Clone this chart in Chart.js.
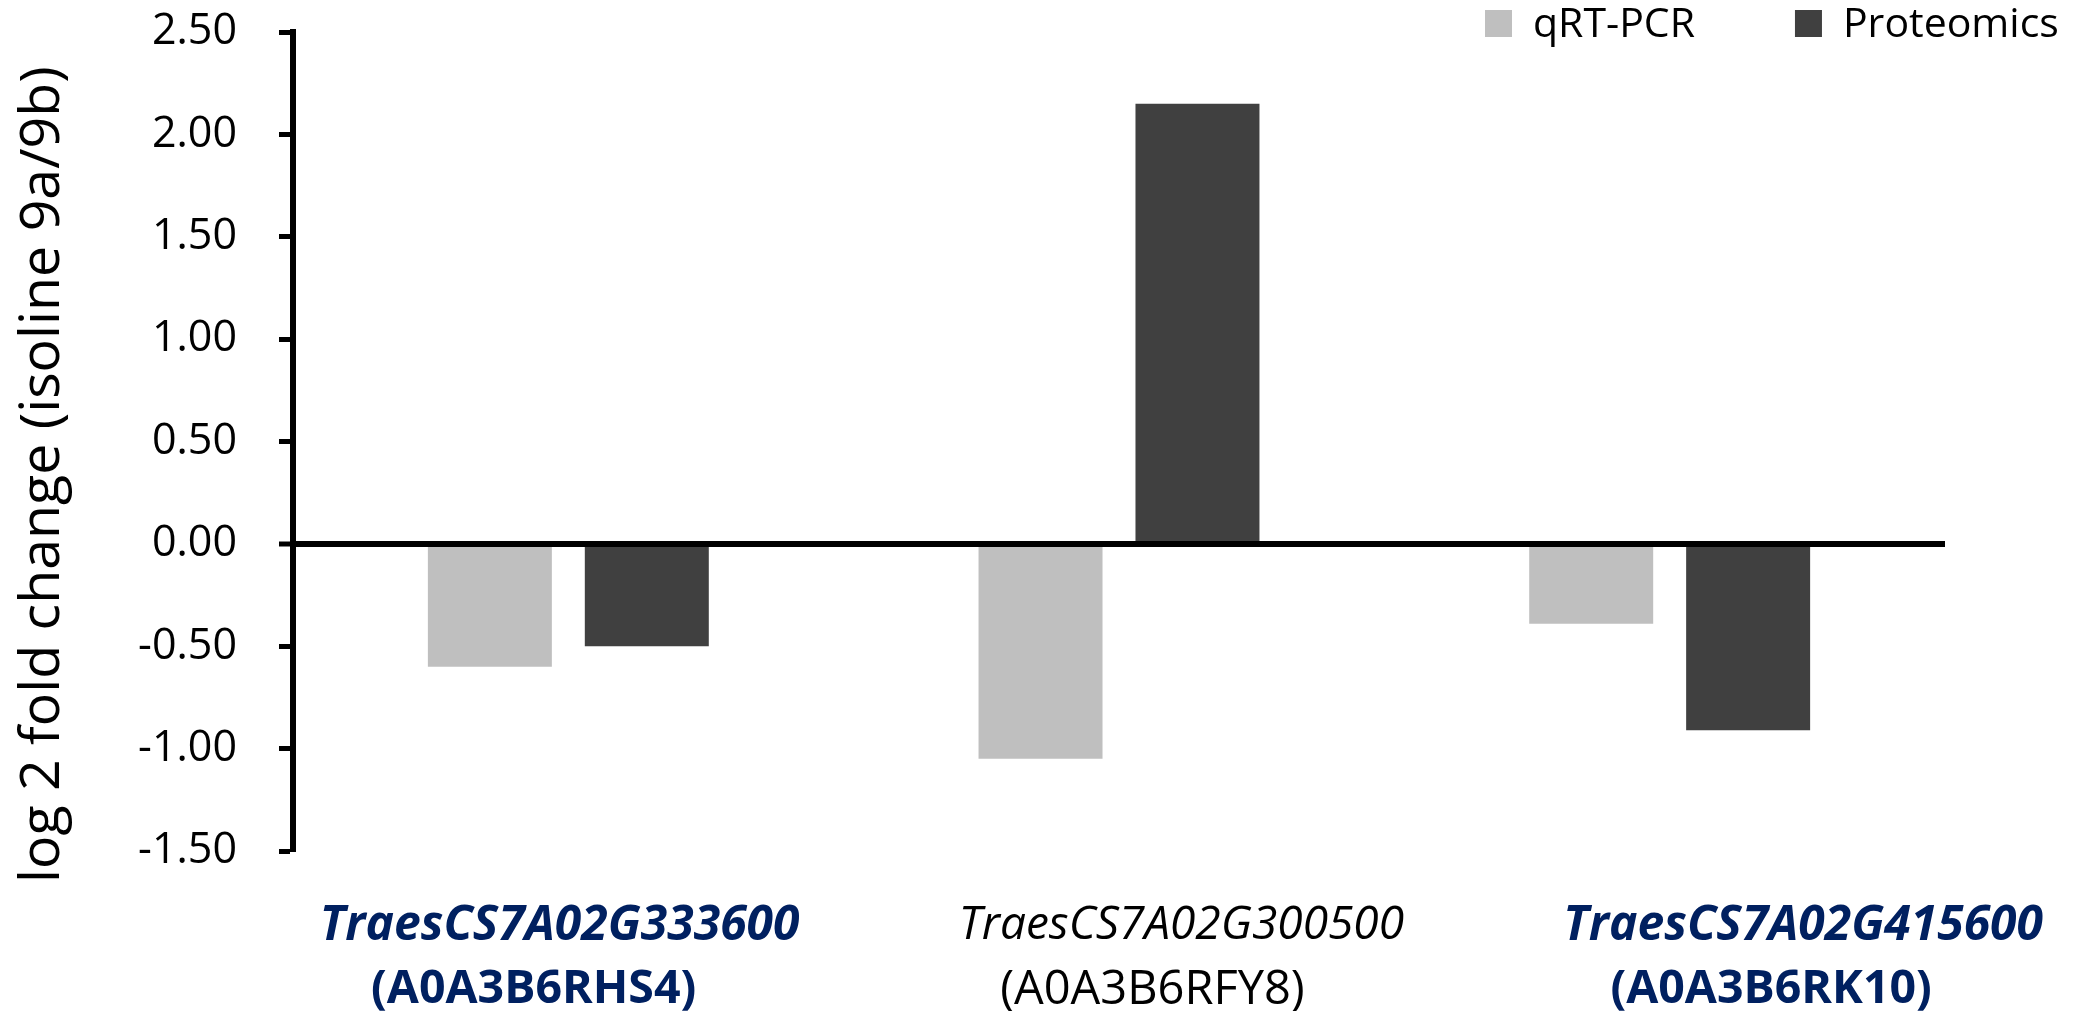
<!DOCTYPE html>
<html>
<head>
<meta charset="utf-8">
<script src="https://cdn.jsdelivr.net/npm/chart.js@4/dist/chart.umd.min.js"></script>
<style>
  html, body { margin: 0; padding: 0; background: #ffffff; }
  canvas { display: block; }
</style>
</head>
<body>
<canvas id="chart" width="2079" height="1011"></canvas>
<script>
// ---- data ----
const geneIds = ['TraesCS7A02G333600', 'TraesCS7A02G300500', 'TraesCS7A02G415600'];
const proteinIds = ['(A0A3B6RHS4)', '(A0A3B6RFY8)', '(A0A3B6RK10)'];
const highlighted = [true, false, true];
const seriesNames = ['qRT-PCR', 'Proteomics'];
const qrtpcrValues = [-0.60, -1.05, -0.39];
const proteomicsValues = [-0.50, 2.15, -0.91];
const yTickValues = [-1.5, -1.0, -0.5, 0, 0.5, 1.0, 1.5, 2.0, 2.5];
const yTitle = 'log 2 fold change (isoline 9a/9b)';

// ---- style ----
const FONT = "'Open Sans', 'Noto Sans', 'DejaVu Sans', sans-serif";
const NAVY = '#002060';
const seriesColors = ['#BFBFBF', '#404040'];
Chart.defaults.font.family = FONT;

const categories = geneIds.map((g, i) => g + ' ' + proteinIds[i]);

const cornerLegend = {
  id: 'cornerLegend',
  afterDraw(chart) {
    const c = chart.ctx;
    c.save();
    c.font = '41px ' + FONT;
    c.textBaseline = 'alphabetic';
    c.textAlign = 'left';
    let x = 1485;
    const box = 27, boxGap = 21, itemGap = 100, boxTop = 10, baseline = 37;
    chart.data.datasets.forEach(ds => {
      c.fillStyle = ds.backgroundColor;
      c.fillRect(x, boxTop, box, box);
      x += box + boxGap;
      c.fillStyle = '#000';
      c.fillText(ds.label, x, baseline);
      x += c.measureText(ds.label).width + itemGap;
    });
    c.restore();
  }
};

function labelAxis(texts, weight, height, pad, min, max, italic, boldSize, normalSize) {
  return {
    type: 'linear',
    position: 'bottom',
    weight: weight,
    min: min,
    max: max,
    offset: false,
    bounds: 'data',
    grid: { display: false, offset: false },
    border: { display: false },
    afterBuildTicks: s => { s.ticks = texts.map((_, i) => ({ value: i })); },
    afterFit: s => {
      s.height = height;
      s.paddingLeft = 0; s.paddingRight = 0; s.paddingTop = 0; s.paddingBottom = 0;
    },
    ticks: {
      autoSkip: false,
      maxRotation: 0,
      minRotation: 0,
      padding: pad,
      callback: v => texts[v],
      color: c => highlighted[c.index] ? NAVY : '#000000',
      font: c => ({
        family: FONT,
        size: highlighted[c.index] ? boldSize : normalSize,
        style: italic ? 'italic' : 'normal',
        weight: highlighted[c.index] ? 'bold' : 'normal'
      })
    }
  };
}

new Chart(document.getElementById('chart'), {
  type: 'bar',
  data: {
    labels: categories,
    datasets: [
      { label: seriesNames[0], data: qrtpcrValues, backgroundColor: seriesColors[0],
        categoryPercentage: 0.57, barPercentage: 0.79, xAxisID: 'x', yAxisID: 'y' },
      { label: seriesNames[1], data: proteomicsValues, backgroundColor: seriesColors[1],
        categoryPercentage: 0.57, barPercentage: 0.79, xAxisID: 'x', yAxisID: 'y' }
    ]
  },
  options: {
    responsive: false,
    animation: false,
    devicePixelRatio: 1,
    layout: { padding: { top: 32, right: 134, bottom: 0, left: 0 } },
    plugins: { legend: { display: false }, tooltip: { enabled: false } },
    scales: {
      x: { type: 'category', display: false, offset: true },
      xl1: labelAxis(geneIds, 1, 95, 39, -0.4289, 2.2282, true, 48, 46),
      xl2: labelAxis(proteinIds, 2, 65, 8, -0.389, 2.281, false, 46.5, 47),
      y: {
        type: 'linear',
        position: 'left',
        min: -1.5,
        max: 2.5,
        z: 1,
        afterBuildTicks: s => { s.ticks = yTickValues.map(v => ({ value: v })); },
        afterFit: s => {
          s.width = 293;
          s.paddingTop = 0; s.paddingBottom = 0;
        },
        ticks: {
          callback: v => Number(v).toFixed(2),
          color: '#000000',
          font: { size: 43 },
          padding: 42
        },
        grid: {
          color: c => (c.tick && c.tick.value === 0) ? '#000000' : 'rgba(0,0,0,0)',
          lineWidth: c => (c.tick && c.tick.value === 0) ? 6 : 1,
          tickColor: '#000000',
          tickWidth: 5,
          tickLength: 14,
          drawTicks: true
        },
        border: { display: true, color: '#000000', width: 6 },
        title: {
          display: true,
          text: yTitle + '  \u200A',
          align: 'end',
          color: '#000000',
          font: { size: 55.5 },
          padding: { top: 10, bottom: 0 }
        }
      }
    }
  },
  plugins: [cornerLegend]
});
</script>
</body>
</html>
